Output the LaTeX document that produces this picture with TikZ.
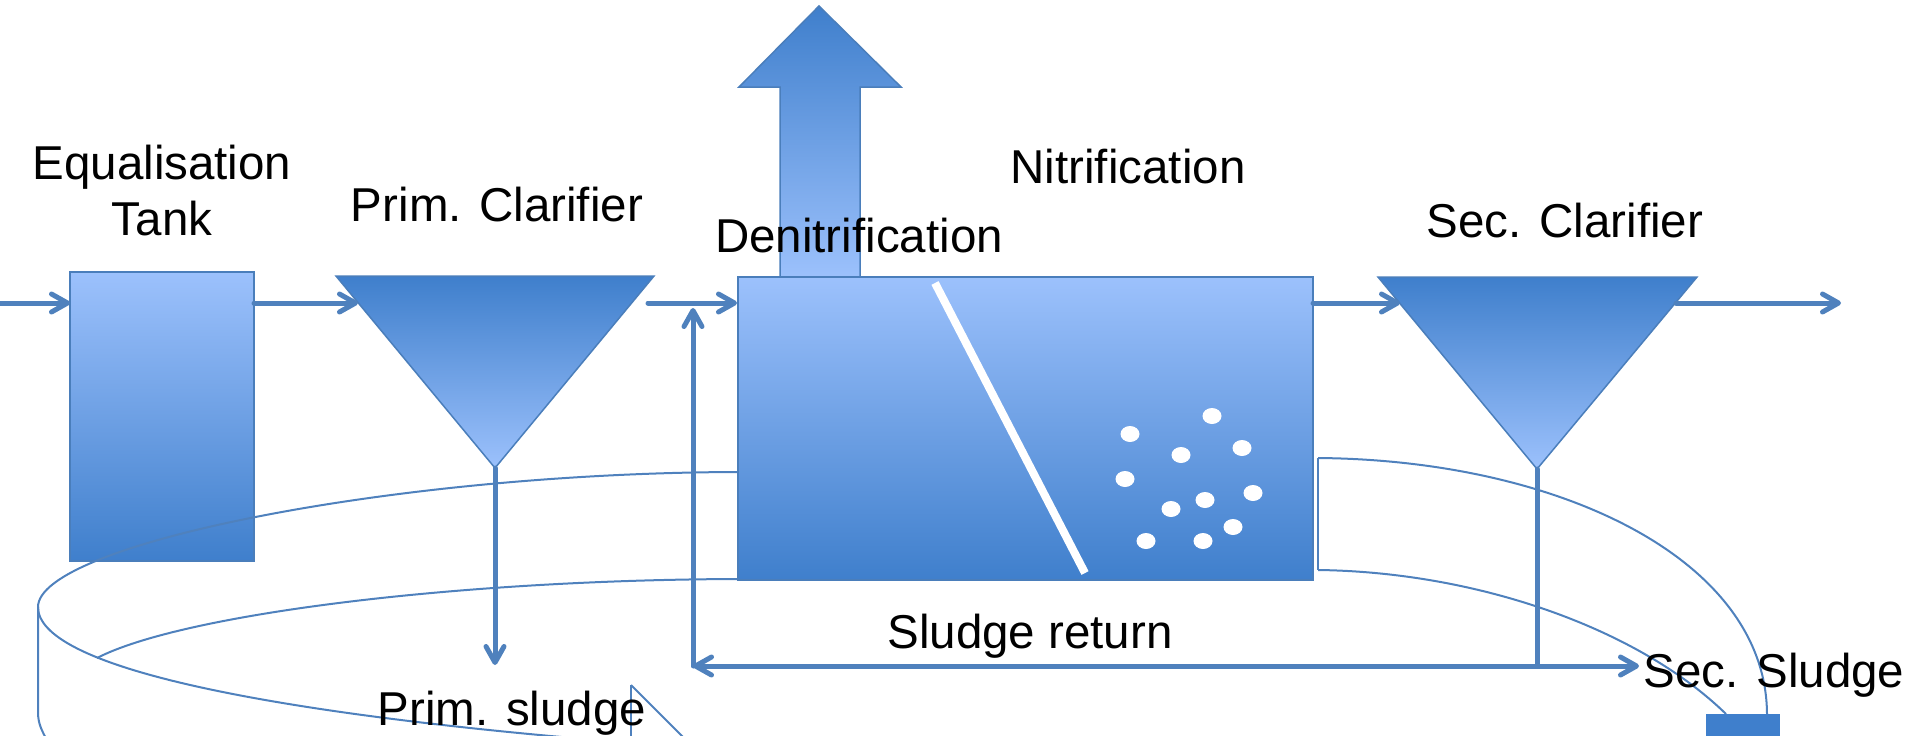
\documentclass[tikz,border=0pt]{standalone}
\usepackage{fontspec}
\setmainfont{Liberation Sans}
\usetikzlibrary{arrows.meta}

\definecolor{lineblue}{HTML}{4F81BD}
\definecolor{edgeblue}{HTML}{4A7EBB}
\definecolor{boxlight}{HTML}{9CC1FC}
\definecolor{boxdark}{HTML}{3F7FCC}

\tikzset{
  flow/.style={draw=lineblue, line width=2.5pt, line cap=round,
    -{Straight Barb[length=8pt,width=9pt,round]}},
  pipe/.style={draw=lineblue, line width=2.5pt, line cap=round},
  tankbox/.style={draw=edgeblue, line width=0.75pt, top color=boxlight,
    bottom color=boxdark, inner sep=0pt, outer sep=0pt},
  funnel/.style={draw=edgeblue, line width=0.75pt, top color=boxdark,
    bottom color=boxlight},
  band/.style={draw=lineblue, line width=1pt},
  bubble/.style={fill=white, draw=none},
  lbl/.style={font=\fontsize{23.75pt}{28pt}\selectfont, inner sep=0pt, text=black},
}

\begin{document}
\begin{tikzpicture}[x=0.5pt,y=-0.5pt]
\useasboundingbox (0,0) rectangle (1917,735);
\clip (0,0) rectangle (1917,735);

% gas released from the denitrification zone
\path[funnel] (780,278) -- (780,87) -- (739,87) -- (819,6) -- (901,87)
  -- (860,87) -- (860,278) -- cycle;

% equalisation tank
\node[tankbox, minimum width=92pt, minimum height=144.5pt] (eq) at (162,416.5) {};

% curved band in the background, left part
\draw[band] (737,472) .. controls (390,473) and (38,545) .. (38,607);
\draw[band] (38,607) .. controls (38,665) and (250,712) .. (620,742);
\draw[band] (737,579) .. controls (450,580) and (180,615) .. (97,658);
\draw[band] (38,607) -- (38,712) .. controls (38,724) and (42,731) .. (48,742);
\draw[band] (631,685) -- (631,742);
\draw[band] (631,685) -- (688,742);

% curved band, right part
\draw[band] (1318,458) -- (1318,570);
\draw[band] (1318,458) .. controls (1560,460) and (1767,560) .. (1767,715);
\draw[band] (1318,570) .. controls (1480,572) and (1640,630) .. (1726,714);
\fill[boxdark] (1706,714) rectangle (1780,745);

% aeration tank with denitrification / nitrification zones
\node[tankbox, minimum width=287.5pt, minimum height=151.5pt] (at) at (1025.5,428.5) {};
\draw[white, line width=4pt, line cap=butt] (935,283) -- (1085,573);
\foreach \bx/\by in {1130/434, 1212/416, 1181/455, 1242/448, 1125/479, 1253/493,
                     1205/500, 1171/509, 1233/527, 1146/541, 1203/541}
  \fill[bubble] (\bx,\by) ellipse [x radius=9.5, y radius=8];

% clarifiers
\path[funnel] (336,276) -- (654,276) -- (495,468) -- cycle;
\path[funnel] (1378,277) -- (1697,277) -- (1537,469) -- cycle;

% connection points
\coordinate (in0) at (-10,303);
\coordinate (eqIn) at (70,303);
\coordinate (eqOut) at (254,303);
\coordinate (pcIn) at (358,303);
\coordinate (pcOut) at (648,303);
\coordinate (atIn) at (737,303);
\coordinate (atOut) at (1313,303);
\coordinate (scIn) at (1400,303);
\coordinate (scOut) at (1676,303);
\coordinate (out) at (1841,303);
\coordinate (pcApex) at (495,468);
\coordinate (pcDrop) at (495,665);
\coordinate (scApex) at (1537,469);
\coordinate (scFoot) at (1537,666);
\coordinate (retLeft) at (693,666);
\coordinate (retTop) at (693,308);
\coordinate (retRight) at (1639,666);

% main flow
\draw[flow] (in0) -- (eqIn);
\draw[flow] (eqOut) -- (pcIn);
\draw[flow] (pcOut) -- (atIn);
\draw[flow] (atOut) -- (scIn);
\draw[flow] (scOut) -- (out);

% sludge lines
\draw[flow] (pcApex) -- (pcDrop);
\draw[pipe] (scApex) -- (scFoot);
\draw[flow, {Straight Barb[length=8pt,width=9pt,round]}-{Straight Barb[length=8pt,width=9pt,round]}]
  (retLeft) -- (retRight);
\draw[flow] (retLeft) -- (retTop);

% labels
\node[lbl, align=center, anchor=north] (eqlbl) at (162,145) {Equalisation\\Tank};
\node[lbl, anchor=base] (pclbl) at (497,221) {Prim. Clarifier};
\node[lbl, anchor=base] (nitlbl) at (1128,183) {Nitrification};
\node[lbl, anchor=base] (denlbl) at (859,252) {Denitrification};
\node[lbl, anchor=base] (sclbl) at (1565,237) {Sec. Clarifier};
\node[lbl, anchor=base] (srlbl) at (1030,648) {Sludge return};
\node[lbl, anchor=base] (pslbl) at (512,725) {Prim. sludge};
\node[lbl, anchor=base] (sslbl) at (1774,687) {Sec. Sludge};
\end{tikzpicture}
\end{document}
